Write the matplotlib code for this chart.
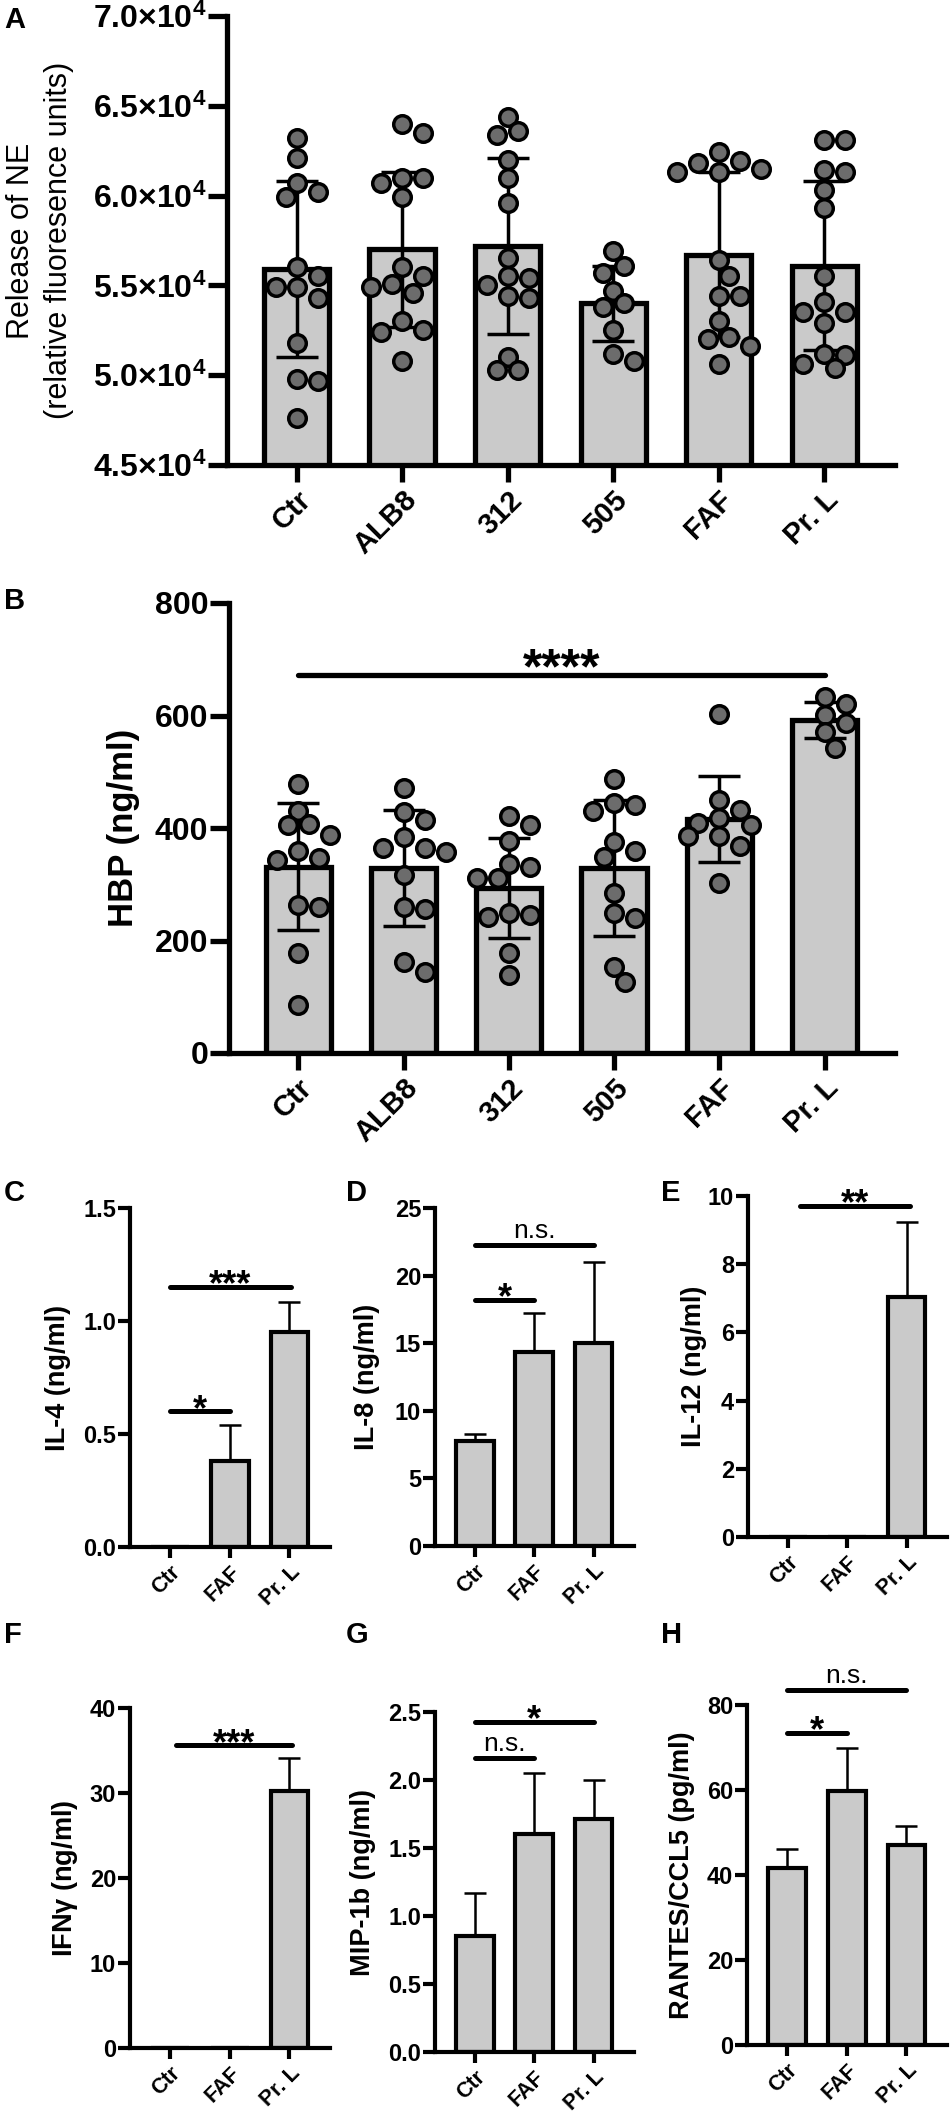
import numpy as np
import matplotlib
matplotlib.use('Agg')
import matplotlib.pyplot as plt
from matplotlib.ticker import FuncFormatter, MultipleLocator

plt.rcParams['font.family'] = ['Liberation Sans', 'DejaVu Sans']
plt.rcParams['mathtext.fontset'] = 'custom'
plt.rcParams['mathtext.rm'] = 'Liberation Sans'
plt.rcParams['mathtext.bf'] = 'Liberation Sans:bold'

groups_big = ['Ctr', 'ALB8', '312', '505', 'FAF', 'Pr. L']
groups_small = ['Ctr', 'FAF', 'Pr. L']

# A: release of NE (x 10^4 relative fluorescence units)
ne_points = [
    [6.32, 6.21, 6.07, 6.02, 5.99, 5.60, 5.55, 5.49, 5.49, 5.43, 5.18, 4.98, 4.97, 4.76],
    [6.40, 6.35, 6.10, 6.10, 6.07, 5.99, 5.60, 5.55, 5.51, 5.49, 5.46, 5.30, 5.25, 5.24, 5.08],
    [6.44, 6.36, 6.34, 6.20, 6.10, 5.96, 5.65, 5.55, 5.54, 5.50, 5.44, 5.43, 5.10, 5.03, 5.03],
    [5.69, 5.61, 5.57, 5.47, 5.40, 5.38, 5.25, 5.12, 5.08],
    [6.24, 6.19, 6.18, 6.15, 6.13, 6.13, 5.64, 5.55, 5.44, 5.44, 5.30, 5.21, 5.20, 5.16, 5.06],
    [6.31, 6.31, 6.14, 6.13, 6.03, 5.93, 5.55, 5.41, 5.35, 5.35, 5.29, 5.12, 5.11, 5.06, 5.04],
]
ne_mean = [5.59, 5.70, 5.72, 5.40, 5.67, 5.61]
ne_sd = [0.49, 0.43, 0.49, 0.21, 0.46, 0.47]

# B: HBP (ng/ml)
hbp_points = [
    [478, 430, 407, 405, 388, 359, 347, 343, 263, 260, 178, 85],
    [471, 428, 414, 384, 364, 364, 357, 316, 260, 256, 162, 144],
    [421, 405, 377, 336, 331, 311, 311, 249, 245, 242, 178, 139],
    [487, 444, 441, 430, 375, 359, 348, 284, 249, 240, 153, 126],
    [603, 450, 432, 418, 409, 405, 386, 386, 368, 302],
    [633, 620, 601, 587, 571, 542],
]
hbp_mean = [331, 329, 293, 329, 416, 592]
hbp_sd = [113, 103, 89, 121, 76, 32]
hbp_brackets = [(0, 5, 672, '****')]

# C-H: cytokines (Ctr, FAF, Pr. L)
il4_mean, il4_sd = [0.0, 0.38, 0.95], [0.0, 0.16, 0.135]
il8_mean, il8_sd = [7.8, 14.35, 15.0], [0.5, 2.85, 6.0]
il12_mean, il12_sd = [0.0, 0.0, 7.05], [0.0, 0.0, 2.2]
ifng_mean, ifng_sd = [0.0, 0.0, 30.2], [0.0, 0.0, 3.9]
mip_mean, mip_sd = [0.85, 1.60, 1.71], [0.32, 0.45, 0.29]
rantes_mean, rantes_sd = [41.6, 59.8, 47.1], [4.5, 10.1, 4.4]

il4_brackets = [(0, 1, 0.60, '*'), (0, 2.02, 1.15, '***')]
il8_brackets = [(0, 1, 18.2, '*'), (0, 2, 22.3, 'n.s.')]
il12_brackets = [(0.2, 2.05, 9.7, '**')]
ifng_brackets = [(0.1, 2.05, 35.6, '***')]
mip_brackets = [(0, 1, 2.16, 'n.s.'), (0, 2, 2.43, '*')]
rantes_brackets = [(0, 1, 73.4, '*'), (0, 2, 83.5, 'n.s.')]

BAR_GREY = '#cacaca'
DOT_GREY = '#6c6c6c'
W, H = 950, 2123

fig = plt.figure(figsize=(W / 100, H / 100), dpi=100)


def px_axes(left, top, right, bottom):
    return fig.add_axes([left / W, 1 - bottom / H, (right - left) / W, (bottom - top) / H])


def style_axes(ax, lw, ticklen, ytick_size, xtick_size):
    for s in ['top', 'right']:
        ax.spines[s].set_visible(False)
    for s in ['left', 'bottom']:
        ax.spines[s].set_linewidth(lw)
    ax.tick_params(axis='y', direction='out', length=ticklen, width=lw, pad=1,
                   labelsize=ytick_size)
    ax.tick_params(axis='x', direction='out', length=ticklen * 0.85, width=lw, pad=3,
                   labelsize=xtick_size)
    for lab in ax.get_yticklabels():
        lab.set_fontweight('bold')
    for lab in ax.get_xticklabels():
        lab.set_fontweight('bold')
        lab.set_rotation(45)
        lab.set_ha('right')
        lab.set_va('top')
        lab.set_rotation_mode('anchor')


def swarm(ax, xc, vals, diam_px):
    # spread overlapping dots sideways, like a column scatter
    trans = ax.transData
    pts = trans.transform(np.column_stack([np.full(len(vals), xc), vals]))
    x0 = pts[0, 0]
    step = 0.5 * diam_px
    cands = [0.0]
    for k in range(1, 12):
        cands += [k * step, -k * step]
    placed = []
    out = []
    for y in pts[:, 1]:
        for off in cands:
            if all((off - px) ** 2 + (y - py) ** 2 >= (0.78 * diam_px) ** 2 for px, py in placed):
                break
        placed.append((off, y))
        out.append((x0 + off, y))
    return trans.inverted().transform(np.array(out))[:, 0]


def brackets(ax, items, lw, star_size, ns_size):
    for x1, x2, y, txt in items:
        ax.plot([x1, x2], [y, y], color='k', lw=lw, solid_capstyle='round', clip_on=False)
        if txt == 'n.s.':
            ax.annotate(txt, ((x1 + x2) / 2, y), xytext=(0, 5), textcoords='offset points',
                        ha='center', va='baseline', fontsize=ns_size, annotation_clip=False)
        else:
            ax.annotate(txt, ((x1 + x2) / 2, y), xytext=(0, -6), textcoords='offset points',
                        ha='center', va='baseline', fontsize=star_size, fontweight='bold',
                        annotation_clip=False)


def big_panel(ax, points, mean, sd, scale, ylim, yticks, fmt):
    x = np.arange(len(groups_big))
    m = np.array(mean) * scale
    s = np.array(sd) * scale
    ax.bar(x, m, width=0.62, color=BAR_GREY, edgecolor='k', linewidth=3.8, zorder=1)
    ax.errorbar(x, m, yerr=s, fmt='none', ecolor='k', elinewidth=2.5, capsize=15,
                capthick=2.5, zorder=2)
    ax.set_xlim(-0.66, 5.67)
    ax.set_ylim(*ylim)
    ax.set_yticks(yticks)
    ax.yaxis.set_major_formatter(FuncFormatter(fmt))
    ax.set_xticks(x)
    ax.set_xticklabels(groups_big)
    for i, vals in enumerate(points):
        v = np.array(vals) * scale
        xs = swarm(ax, i, v, 21)
        ax.scatter(xs, v, s=160, facecolor=DOT_GREY, edgecolor='k', linewidth=2.5,
                   zorder=3, clip_on=False)
    style_axes(ax, 3.8, 14, 23, 21)


# ---- A ----
axA = px_axes(227, 16, 895, 465)
big_panel(axA, ne_points, ne_mean, ne_sd, 1e4, (45000, 70000),
          np.arange(45000, 70001, 5000),
          lambda v, p: r'$\mathbf{%.1f{\times}10^{4}}$' % (v / 1e4))
axA.set_ylabel('Release of NE\n(relative fluoresence units)', fontsize=22,
               linespacing=1.35, va='center')
axA.yaxis.set_label_coords(-0.28, 0.5)

# ---- B ----
axB = px_axes(229, 603, 895, 1053)
big_panel(axB, hbp_points, hbp_mean, hbp_sd, 1, (0, 800), np.arange(0, 801, 200),
          lambda v, p: '%d' % v)
axB.set_ylabel('HBP (ng/ml)', fontsize=25, fontweight='bold', va='center')
axB.yaxis.set_label_coords(-0.159, 0.5)
brackets(axB, hbp_brackets, 3.8, 36, 22)

# ---- C-H ----
small = [
    ('IL-4 (ng/ml)', il4_mean, il4_sd, 1.5, 0.5, '%.1f', il4_brackets, (130, 1208, 330, 1547), -0.36),
    ('IL-8 (ng/ml)', il8_mean, il8_sd, 25, 5, '%d', il8_brackets, (435, 1208, 634, 1546), -0.34),
    ('IL-12 (ng/ml)', il12_mean, il12_sd, 10, 2, '%d', il12_brackets, (748, 1196, 947, 1537), -0.27),
    (r'IFN$\mathregular{\gamma}$ (ng/ml)', ifng_mean, ifng_sd, 40, 10, '%d', ifng_brackets, (130, 1708, 330, 2048), -0.325),
    ('MIP-1b (ng/ml)', mip_mean, mip_sd, 2.5, 0.5, '%.1f', mip_brackets, (435, 1712, 634, 2052), -0.36),
    ('RANTES/CCL5 (pg/ml)', rantes_mean, rantes_sd, 80, 20, '%d', rantes_brackets, (747, 1705, 947, 2045), -0.325),
]

for label, mean, sd, ytop, ystep, fmt, brk, box, labx in small:
    ax = px_axes(*box)
    x = np.arange(len(groups_small))
    mean = np.array(mean)
    sd = np.array(sd)
    ax.bar(x, mean, width=0.63, color=BAR_GREY, edgecolor='k', linewidth=3.0, zorder=2)
    keep = mean > 0
    ax.errorbar(x[keep], mean[keep], yerr=[np.zeros(keep.sum()), sd[keep]], fmt='none',
                ecolor='k', elinewidth=1.8, capsize=8, capthick=1.8, zorder=1)
    ax.set_xlim(-0.67, 2.68)
    ax.set_ylim(0, ytop)
    ax.yaxis.set_major_locator(MultipleLocator(ystep))
    ax.yaxis.set_major_formatter(FuncFormatter(lambda v, p, f=fmt: f % v))
    ax.set_xticks(x)
    ax.set_xticklabels(groups_small)
    style_axes(ax, 3.0, 9, 17, 15.5)
    ax.set_ylabel(label, fontsize=19.5, fontweight='bold', va='center')
    ax.yaxis.set_label_coords(labx, 0.5)
    brackets(ax, brk, 3.6, 26, 19)

# panel letters
for letter, xp, yp in [('A', 4, 6), ('B', 4, 587), ('C', 4, 1179), ('D', 346, 1179),
                       ('E', 661, 1179), ('F', 4, 1621), ('G', 346, 1621), ('H', 661, 1621)]:
    fig.text(xp / W, 1 - yp / H, letter, fontsize=21, fontweight='bold', va='top', ha='left')

fig.savefig('out.png', dpi=100)
